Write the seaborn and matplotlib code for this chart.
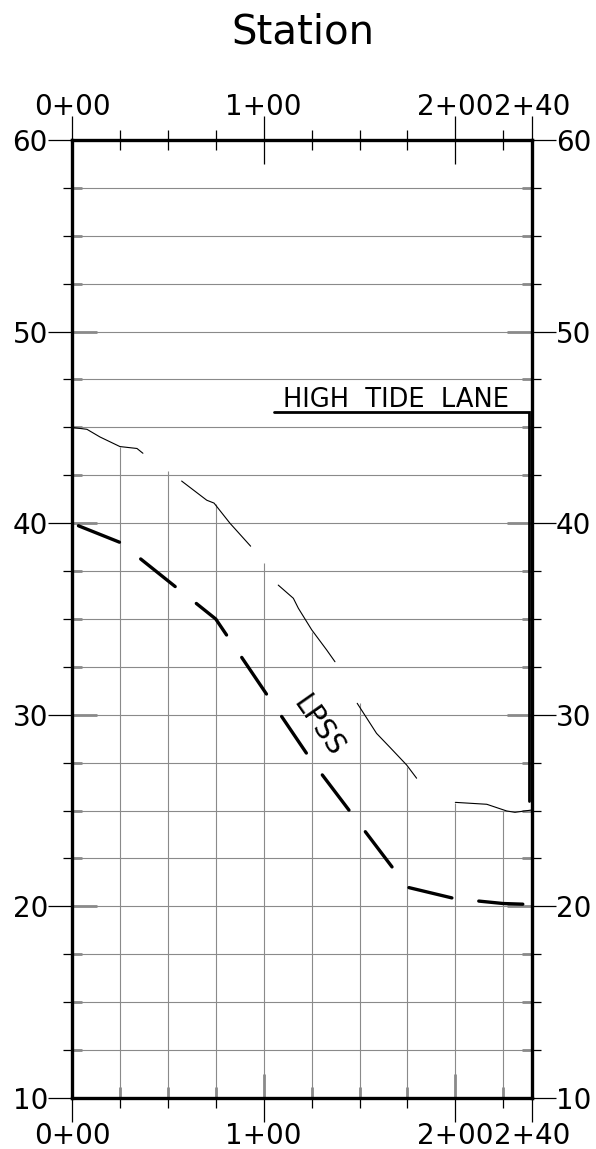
import numpy as np
import pandas as pd
import matplotlib
matplotlib.use("Agg")
import matplotlib.pyplot as plt
import seaborn as sns
from matplotlib.ticker import MultipleLocator

# ---------------- data ----------------
station_ticks = [0, 100, 200, 240]
station_labels = ["0+00", "1+00", "2+00", "2+40"]
elev_ticks = [10, 20, 30, 40, 50, 60]

# vertical station grid lines rise up to the existing ground
grid_stations = [25, 50, 75, 100, 125, 150, 175, 200, 225]
grid_tops = [44.0, 42.7, 41.0, 37.9, 34.3, 30.6, 27.3, 25.4, 25.0]

# existing ground (broken thin line)
ground_seg1_x = [0, 7.8, 14.6, 25, 33.9, 37]
ground_seg1_y = [45.0, 44.9, 44.5, 44.0, 43.9, 43.65]
ground_seg2_x = [57.2, 70.3, 74.1, 82.4, 93.2]
ground_seg2_y = [42.2, 41.2, 41.05, 40.0, 38.8]
ground_seg3_x = [107.6, 115.5, 118.1, 125.1, 132.9, 137.2]
ground_seg3_y = [36.77, 36.08, 35.56, 34.43, 33.38, 32.77]
ground_seg4_x = [148.8, 158.9, 165.9, 174.6, 179.8]
ground_seg4_y = [30.6, 29.03, 28.3, 27.38, 26.69]
ground_seg5_x = [200.0, 216.4, 226.8, 231.1, 239.8]
ground_seg5_y = [25.43, 25.33, 24.98, 24.91, 25.03]

# LPSS profile (dashed)
lpss_x = [0, 25, 75, 100, 125, 150, 175, 200, 225, 240]
lpss_y = [40.0, 39.0, 35.0, 31.3, 27.6, 24.3, 21.0, 20.4, 20.15, 20.1]

# High tide lane leader
htl_x = [105.4, 238.4, 238.4]
htl_y = [45.8, 45.8, 25.5]
htl_label = "HIGH  TIDE  LANE"

# ---------------- style ----------------
sns.set_theme(style="white")
plt.rcParams["font.family"] = ["DejaVu Sans"]
plt.rcParams["lines.scale_dashes"] = False
plt.rcParams["text.color"] = "black"
plt.rcParams["xtick.color"] = "black"
plt.rcParams["ytick.color"] = "black"

GRID = "#8a8a8a"
W, H = 596, 1149
fig = plt.figure(figsize=(W / 100, H / 100), dpi=100)
fig.patch.set_facecolor("white")
pos = [72 / W, 51 / H, 460 / W, 958 / H]

# gray inner ticks (background axes)
axg = fig.add_axes(pos, zorder=0)
axg.set_xlim(0, 240)
axg.set_ylim(10, 60)
axg.set_xticks(station_ticks)
axg.xaxis.set_minor_locator(MultipleLocator(25))
axg.set_yticks(elev_ticks)
axg.yaxis.set_minor_locator(MultipleLocator(2.5))
for s in axg.spines.values():
    s.set_visible(False)
axg.tick_params(axis="x", which="major", direction="in", length=17.5, width=2.0,
                color=GRID, bottom=True, top=False, labelbottom=False)
axg.tick_params(axis="x", which="minor", direction="in", length=8, width=2.0,
                color=GRID, bottom=True, top=False)
axg.tick_params(axis="y", which="major", direction="in", length=18, width=2.0,
                color=GRID, left=True, right=True, labelleft=False)
axg.tick_params(axis="y", which="minor", direction="in", length=7.2, width=2.0,
                color=GRID, left=True, right=True)

# main axes
ax = fig.add_axes(pos, zorder=1)
ax.patch.set_alpha(0)
ax.set_xlim(0, 240)
ax.set_ylim(10, 60)

ax.set_xticks(station_ticks, station_labels)
ax.xaxis.set_minor_locator(MultipleLocator(25))
ax.set_yticks(elev_ticks, [str(v) for v in elev_ticks])
ax.yaxis.set_minor_locator(MultipleLocator(2.5))

ax.tick_params(axis="x", which="major", direction="out", length=17.3, width=0.9,
               labelsize=20, pad=0, bottom=True, top=False)
ax.tick_params(axis="x", which="minor", direction="out", length=7.2, width=0.9,
               bottom=True, top=False)
ax.tick_params(axis="y", which="major", direction="out", length=17.3, width=0.9,
               labelsize=20, pad=0, left=True, right=True,
               labelleft=True, labelright=True)
ax.tick_params(axis="y", which="minor", direction="out", length=6.5, width=0.9,
               left=True, right=True)

ax.grid(axis="y", which="both", color=GRID, lw=0.8)
ax.grid(axis="x", which="both", visible=False)
ax.set_axisbelow(True)

for s in ax.spines.values():
    s.set_linewidth(2.4)
    s.set_color("black")

# top station axis
sec = ax.secondary_xaxis("top")
sec.set_xticks(station_ticks, station_labels)
sec.xaxis.set_minor_locator(MultipleLocator(25))
sec.tick_params(which="major", direction="inout", length=34.6, width=0.9,
                labelsize=20, pad=-3.5)
sec.tick_params(which="minor", direction="inout", length=14.4, width=0.9)
for s in sec.spines.values():
    s.set_visible(False)

# vertical station grid lines
ax.vlines(grid_stations, 10, grid_tops, color=GRID, lw=0.8, zorder=1.5)

# existing ground
segs_x = [ground_seg1_x, ground_seg2_x, ground_seg3_x, ground_seg4_x, ground_seg5_x]
segs_y = [ground_seg1_y, ground_seg2_y, ground_seg3_y, ground_seg4_y, ground_seg5_y]
ground_df = pd.concat(
    [pd.DataFrame({"station": sx, "elev": sy, "seg": i})
     for i, (sx, sy) in enumerate(zip(segs_x, segs_y))],
    ignore_index=True,
)
sns.lineplot(data=ground_df, x="station", y="elev", units="seg", estimator=None,
             sort=False, color="black", lw=0.8, ax=ax, legend=False)

# LPSS dashed line
lpss_df = pd.DataFrame({"station": lpss_x, "elev": lpss_y})
sns.lineplot(data=lpss_df, x="station", y="elev", estimator=None, sort=False,
             color="black", lw=2.4, ax=ax, legend=False)
lp = ax.lines[-1]
lp.set_linestyle((46.3, (31.8, 19.5)))
lp.set_dash_capstyle("round")
ax.text(128.5, 29.4, "LPSS", rotation=-55, rotation_mode="anchor",
        ha="center", va="center", fontsize=20)

# High tide lane
ax.plot(htl_x, htl_y, color="black", lw=2.0, solid_joinstyle="miter")
ax.text(168.9, 46.08, htl_label, ha="center", va="baseline", fontsize=18.5)

ax.set_xlabel("")
ax.set_ylabel("")

fig.text(302.5 / W, 1 - 44 / H, "Station", ha="center", va="baseline", fontsize=29)

fig.savefig("out.png", dpi=100)
